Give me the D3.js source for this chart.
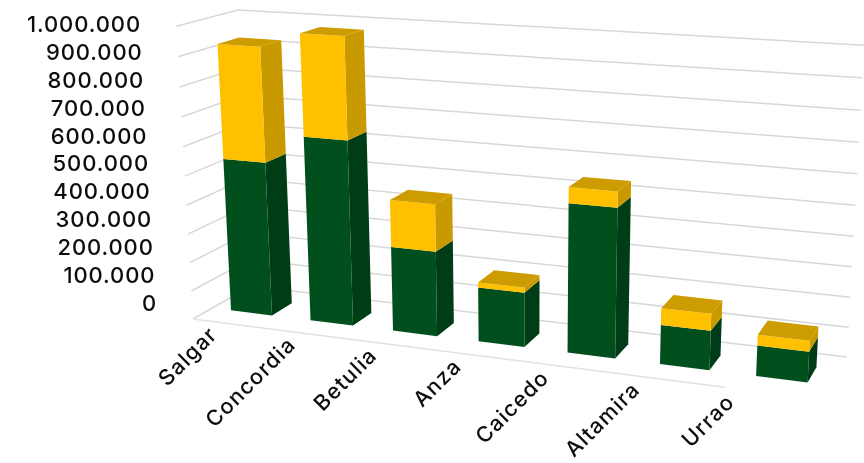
<!DOCTYPE html>
<html>
<head>
<meta charset="utf-8">
<title>Stacked 3D columns</title>
<script src="https://d3js.org/d3.v7.min.js"></script>
<style>
  html, body { margin: 0; padding: 0; background: #fff; }
  svg { display: block; }
  text { font-family: Inter, "DejaVu Sans", sans-serif; font-weight: 500; fill: #0c0c0c; }
</style>
</head>
<body>
<div id="chart"></div>
<script>
var width = 864, height = 463;

var categories = ["Salgar", "Concordia", "Betulia", "Anza", "Caicedo", "Altamira", "Urrao"];
var greenValues = [537000, 637000, 290000, 185000, 495000, 130000, 100000];
var yellowValues = [390000, 342000, 160000, 17000, 52000, 55000, 35000];
var tickValues = [0, 100000, 200000, 300000, 400000, 500000, 600000, 700000, 800000, 900000, 1000000];
var tickLabels = ["0", "100.000", "200.000", "300.000", "400.000", "500.000", "600.000", "700.000", "800.000", "900.000", "1.000.000"];

var colors = {
  green: { front: "#00501e", side: "#003d16" },
  yellow: { front: "#ffc000", side: "#c99a00", top: "#cc9c00" }
};

// box corners on screen and perspective weights
var O = [251, 286], X = [847, 357], Y = [238, 10], Z = [193, 319];
var wx = 0.88, wy = 0.955, wz = 0.94;

function project(u, v, t) {
  var w = 1 + u * (wx - 1) + v * (wy - 1) + t * (wz - 1);
  return [0, 1].map(function(i) {
    return (O[i] + u * (wx * X[i] - O[i]) + v * (wy * Y[i] - O[i]) + t * (wz * Z[i] - O[i])) / w;
  });
}

var xScale = d3.scaleBand().domain(categories).range([0, 1]).paddingInner(0.48).paddingOuter(0.24);
var yScale = d3.scaleLinear().domain([0, 1000000]).range([0, 1]);
var zBar = [0.32, 0.68];

// tick labels sit on their own slanted line, category labels on a line below the floor
var tickX = d3.scaleLinear().domain([0, 1000000]).range([157, 141]);
var tickY = d3.scaleLinear().domain([0, 1000000]).range([303, 24]);
var labelU = d3.scaleLinear().domain([0, 1]).range([-0.01, 0.945]);
var labelDepth = 1.2;

var svg = d3.select("#chart").append("svg")
  .attr("width", width)
  .attr("height", height);

var defs = svg.append("defs");
defs.append("filter").attr("id", "soft")
  .append("feGaussianBlur").attr("stdDeviation", 0.45);

var root = svg.append("g").attr("filter", "url(#soft)");
var line = d3.line();

// walls and floor
var grid = root.append("g").attr("fill", "none").attr("stroke", "#d8d8d8").attr("stroke-width", 1.5);
grid.selectAll("path.wall")
  .data(tickValues)
  .enter().append("path")
  .attr("class", "wall")
  .attr("d", function(d) {
    var v = yScale(d);
    return line([project(0, v, 1), project(0, v, 0), project(1, v, 0)]);
  });
grid.append("path")
  .attr("stroke", "#e2e2e2")
  .attr("d", line([project(0, 0, 1), project(0.86, 0, 1)]));

function face(a, b, c, d) {
  return line([a, b, c, d]) + "Z";
}

// stacked columns, left to right
var stacks = categories.map(function(c, i) {
  return {
    name: c,
    parts: [
      { from: 0, to: greenValues[i], color: colors.green },
      { from: greenValues[i], to: greenValues[i] + yellowValues[i], color: colors.yellow }
    ]
  };
});

var bars = root.selectAll("g.bar")
  .data(stacks)
  .enter().append("g")
  .attr("class", "bar");

bars.each(function(s) {
  var g = d3.select(this);
  var x0 = xScale(s.name), x1 = x0 + xScale.bandwidth();
  var zb = zBar[0], zf = zBar[1];
  s.parts.forEach(function(p) {
    var v0 = yScale(p.from), v1 = yScale(p.to);
    g.append("path").attr("fill", p.color.side)
      .attr("d", face(project(x1, v0, zf), project(x1, v0, zb), project(x1, v1, zb), project(x1, v1, zf)));
    g.append("path").attr("fill", p.color.front)
      .attr("d", face(project(x0, v0, zf), project(x1, v0, zf), project(x1, v1, zf), project(x0, v1, zf)));
    if (p.color.top) {
      g.append("path").attr("fill", p.color.top)
        .attr("d", face(project(x0, v1, zf), project(x1, v1, zf), project(x1, v1, zb), project(x0, v1, zb)));
    }
  });
});

// tick labels
root.selectAll("text.tick")
  .data(tickValues)
  .enter().append("text")
  .attr("class", "tick")
  .attr("x", function(d) { return tickX(d); })
  .attr("y", function(d) { return tickY(d); })
  .attr("dy", "0.36em")
  .attr("text-anchor", "end")
  .style("font-size", "22px")
  .style("letter-spacing", "0.9px")
  .text(function(d, i) { return tickLabels[i]; });

// category labels
root.selectAll("text.cat")
  .data(categories)
  .enter().append("text")
  .attr("class", "cat")
  .attr("text-anchor", "end")
  .attr("transform", function(d) {
    var c = xScale(d) + xScale.bandwidth() / 2;
    var p = project(labelU(c), 0, labelDepth);
    return "translate(" + p[0] + "," + p[1] + ") rotate(-45)";
  })
  .attr("dy", "0.36em")
  .style("font-size", "21.5px")
  .style("letter-spacing", "1.2px")
  .text(function(d) { return d; });
</script>
</body>
</html>
